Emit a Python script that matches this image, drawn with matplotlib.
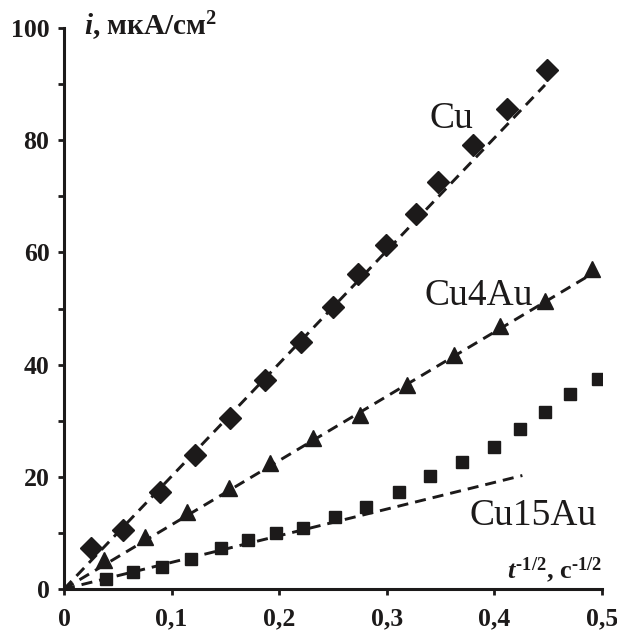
import numpy as np
import matplotlib
matplotlib.use("Agg")
import matplotlib.pyplot as plt
from matplotlib.ticker import MultipleLocator, FuncFormatter

plt.rcParams['font.family'] = ['Liberation Serif', 'DejaVu Serif']
plt.rcParams['mathtext.fontset'] = 'custom'
plt.rcParams['mathtext.rm'] = 'Liberation Serif:bold'
plt.rcParams['mathtext.it'] = 'Liberation Serif:bold:italic'

# данные (t^-1/2, i)
cu_x = [0.025, 0.055, 0.089, 0.122, 0.154, 0.187, 0.220, 0.250, 0.273, 0.299,
        0.327, 0.348, 0.380, 0.412, 0.449]
cu_y = [7.3, 10.5, 17.3, 23.9, 30.5, 37.3, 44.0, 50.2, 56.2, 61.4,
        66.8, 72.5, 79.1, 85.5, 92.5]

cu4_x = [0.037, 0.075, 0.114, 0.153, 0.191, 0.231, 0.275, 0.319, 0.362, 0.405,
         0.447, 0.491]
cu4_y = [5.2, 9.3, 13.8, 18.0, 22.4, 26.9, 31.1, 36.4, 41.8, 46.8, 51.3, 57.0]

cu15_x = [0.039, 0.064, 0.091, 0.118, 0.146, 0.171, 0.197, 0.222, 0.252, 0.281,
          0.311, 0.340, 0.370, 0.400, 0.424, 0.447, 0.470, 0.496]
cu15_y = [1.8, 3.0, 4.0, 5.3, 7.3, 8.7, 10.0, 10.9, 12.9, 14.7,
          17.3, 20.1, 22.6, 25.4, 28.5, 31.6, 34.8, 37.5]

# линейные участки: наклон и конец
fit_slope = [201.0, 114.5, 47.5]
fit_xend = [0.447, 0.485, 0.426]

labels = ['Cu', 'Cu4Au', 'Cu15Au']
label_pos = [(0.340, 82.1), (0.335, 50.7), (0.377, 11.4)]

black = '#1c1a1a'

fig = plt.figure(figsize=(6.17, 6.35), dpi=100)
ax = fig.add_axes([0.1037, 0.0724, 0.8720, 0.8835])

ax.plot(cu_x, cu_y, 'D', color=black, ms=11, zorder=3)
ax.plot(cu4_x, cu4_y, '^', color=black, ms=11, zorder=3)
ax.plot(cu15_x, cu15_y, 's', color=black, ms=8.5, zorder=3)

for k, xe in zip(fit_slope, fit_xend):
    xx = np.array([0.0, xe])
    ax.plot(xx, k * xx, color=black, lw=2.1, linestyle=(0, (3.8, 2.4)),
            zorder=2, clip_on=False)

for lab, (lx, ly) in zip(labels, label_pos):
    ax.text(lx, ly, lab, fontsize=27, color=black, ha='left', va='baseline')

ax.set_xlim(0, 0.5)
ax.set_ylim(0, 100)
ax.xaxis.set_major_locator(MultipleLocator(0.1))
ax.yaxis.set_major_locator(MultipleLocator(20))
ax.yaxis.set_minor_locator(MultipleLocator(10))
ax.xaxis.set_major_formatter(FuncFormatter(
    lambda v, p: '0' if abs(v) < 1e-9 else ('%.1f' % v).replace('.', ',')))
ax.yaxis.set_major_formatter(FuncFormatter(lambda v, p: '%d' % v))

for sp in ['top', 'right']:
    ax.spines[sp].set_visible(False)
for sp in ['left', 'bottom']:
    ax.spines[sp].set_linewidth(2.2)
    ax.spines[sp].set_color(black)

ax.tick_params(which='major', direction='out', length=4.5, width=2.0,
               color=black, labelsize=18.5, labelcolor=black)
ax.tick_params(axis='y', which='major', pad=6)
ax.tick_params(axis='x', which='major', pad=9)
ax.tick_params(axis='y', which='minor', direction='out', length=4.0,
               width=2.0, color=black)
for t in ax.get_xticklabels() + ax.get_yticklabels():
    t.set_fontweight('bold')

ax.text(0.0186, 98.75, r'$\mathit{i}$, мкА/см$^{\mathrm{2}}$', fontsize=21,
        fontweight='bold', color=black, ha='left', va='baseline')
ax.text(0.5, 2.0, r'$\mathit{t}^{\mathrm{‐1/2}}$, с$^{\mathrm{‐1/2}}$',
        fontsize=19, fontweight='bold', color=black, ha='right',
        va='baseline')

fig.savefig('out.png', dpi=100)
